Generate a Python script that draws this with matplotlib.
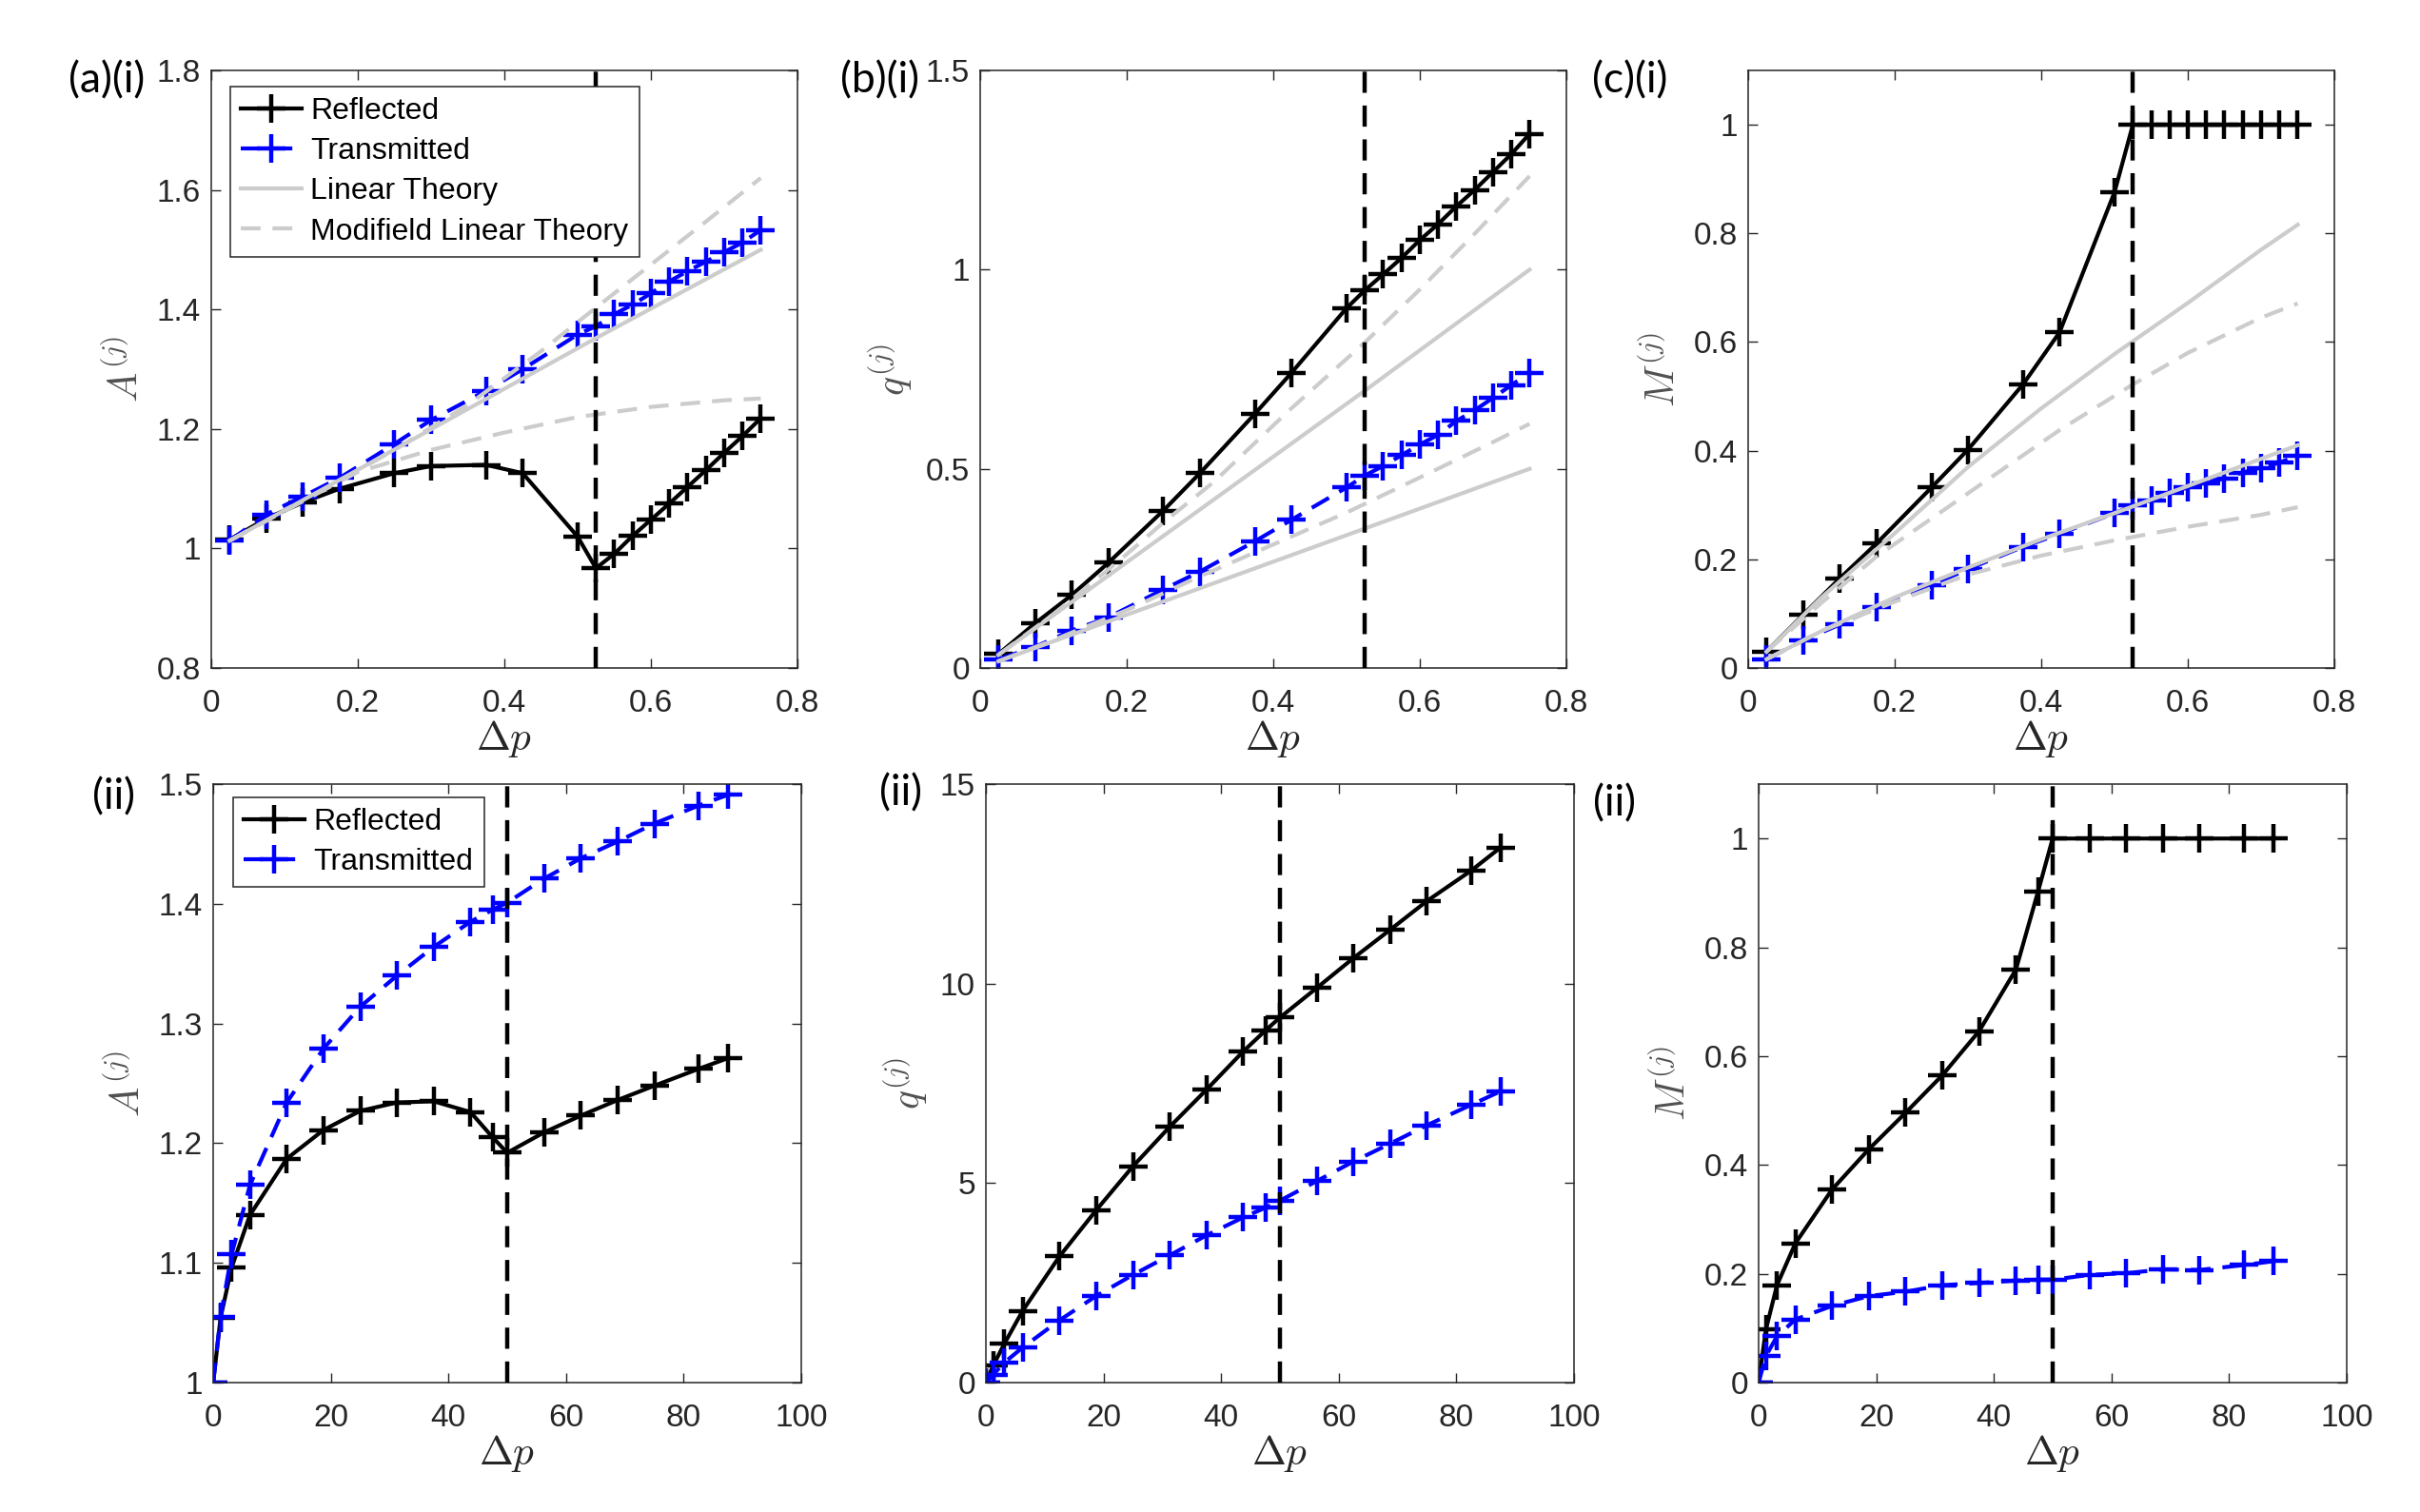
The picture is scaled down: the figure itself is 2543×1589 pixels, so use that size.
import matplotlib
matplotlib.use("Agg")
import matplotlib.pyplot as plt
from matplotlib.ticker import FuncFormatter, MultipleLocator

plt.rcParams['font.family'] = ['Liberation Sans', 'DejaVu Sans']
plt.rcParams['mathtext.fontset'] = 'cm'

# ---------------- data: top row (small delta p) ----------------
x_top = [0.025, 0.075, 0.125, 0.175, 0.25, 0.3, 0.375, 0.425, 0.5, 0.525,
         0.55, 0.575, 0.6, 0.625, 0.65, 0.675, 0.7, 0.725, 0.75]

A_ref_top = [1.015, 1.05, 1.077, 1.10, 1.126, 1.138, 1.140, 1.126, 1.02, 0.967,
             0.991, 1.021, 1.048, 1.075, 1.103, 1.131, 1.16, 1.188, 1.218]
A_tra_top = [1.013, 1.057, 1.087, 1.118, 1.175, 1.215, 1.264, 1.30, 1.358, 1.372,
             1.392, 1.408, 1.427, 1.447, 1.464, 1.48, 1.496, 1.512, 1.533]

q_ref_top = [0.035, 0.112, 0.183, 0.264, 0.395, 0.489, 0.638, 0.741, 0.903, 0.948,
             0.988, 1.029, 1.074, 1.114, 1.159, 1.20, 1.245, 1.29, 1.341]
q_tra_top = [0.022, 0.053, 0.094, 0.127, 0.197, 0.242, 0.318, 0.372, 0.453, 0.483,
             0.507, 0.534, 0.561, 0.585, 0.62, 0.647, 0.678, 0.71, 0.741]

M_ref_top = [0.030, 0.098, 0.165, 0.229, 0.332, 0.402, 0.522, 0.618, 0.876, 1.0,
             1.0, 1.0, 1.0, 1.0, 1.0, 1.0, 1.0, 1.0, 1.0]
M_tra_top = [0.016, 0.051, 0.080, 0.112, 0.153, 0.182, 0.223, 0.247, 0.285, 0.299,
             0.309, 0.323, 0.332, 0.340, 0.349, 0.360, 0.368, 0.378, 0.391]

# theory curves (top row)
A_lin_x = [0.025, 0.525, 0.75]
A_lin = [1.013, 1.352, 1.5]
A_mod_tra_x = [0.025, 0.15, 0.25, 0.35, 0.45, 0.525, 0.6, 0.675, 0.75]
A_mod_tra = [1.013, 1.096, 1.165, 1.24, 1.33, 1.403, 1.475, 1.547, 1.62]
A_mod_ref_x = [0.025, 0.1, 0.2, 0.3, 0.4, 0.5, 0.6, 0.7, 0.75]
A_mod_ref = [1.013, 1.063, 1.128, 1.165, 1.194, 1.22, 1.237, 1.248, 1.251]

q_lin_x = [0.025, 0.525, 0.75]
q_lin_ref = [0.033, 0.696, 1.0]
q_lin_tra = [0.017, 0.35, 0.5]
q_mod_ref_x = [0.025, 0.1, 0.187, 0.252, 0.319, 0.422, 0.525, 0.6, 0.675, 0.75]
q_mod_ref = [0.033, 0.135, 0.265, 0.368, 0.467, 0.647, 0.817, 0.95, 1.09, 1.235]
q_mod_tra_x = [0.025, 0.1, 0.2, 0.3, 0.4, 0.5, 0.6, 0.7, 0.75]
q_mod_tra = [0.017, 0.07, 0.145, 0.23, 0.31, 0.39, 0.478, 0.567, 0.613]

M_th_x = [0.025, 0.1, 0.2, 0.3, 0.4, 0.5, 0.6, 0.7, 0.75]
M_lin_ref = [0.03, 0.13, 0.248, 0.37, 0.478, 0.578, 0.672, 0.77, 0.816]
M_lin_tra = [0.016, 0.068, 0.13, 0.185, 0.237, 0.285, 0.335, 0.385, 0.41]
M_mod_ref_x = [0.025, 0.1, 0.175, 0.25, 0.325, 0.425, 0.525, 0.6, 0.7, 0.75]
M_mod_ref = [0.03, 0.12, 0.205, 0.275, 0.345, 0.438, 0.522, 0.58, 0.645, 0.671]
M_mod_tra = [0.016, 0.068, 0.122, 0.172, 0.207, 0.235, 0.26, 0.282, 0.296]

# ---------------- data: bottom row (large delta p) ----------------
x_bot = [0, 1.25, 3.125, 6.25, 12.5, 18.75, 25, 31.25, 37.5, 43.75, 47.5, 50,
         56.25, 62.5, 68.75, 75, 82.5, 87.5]

A_ref_bot = [1.0, 1.054, 1.096, 1.140, 1.187, 1.211, 1.227, 1.234, 1.235, 1.226,
             1.205, 1.192, 1.209, 1.223, 1.236, 1.248, 1.262, 1.271]
A_tra_bot = [1.0, 1.055, 1.107, 1.165, 1.234, 1.279, 1.314, 1.34, 1.364, 1.385,
             1.395, 1.401, 1.421, 1.438, 1.452, 1.467, 1.482, 1.491]

q_ref_bot = [0.0, 0.43, 0.97, 1.80, 3.16, 4.32, 5.42, 6.41, 7.34, 8.30,
             8.82, 9.15, 9.89, 10.64, 11.35, 12.07, 12.83, 13.41]
q_tra_bot = [0.0, 0.2, 0.5, 0.88, 1.56, 2.17, 2.70, 3.19, 3.69, 4.14,
             4.38, 4.56, 5.05, 5.54, 5.99, 6.45, 6.96, 7.30]

M_ref_bot = [0.0, 0.098, 0.179, 0.256, 0.355, 0.429, 0.496, 0.565, 0.646, 0.759,
             0.902, 1.0, 1.0, 1.0, 1.0, 1.0, 1.0, 1.0]
M_tra_bot = [0.0, 0.049, 0.085, 0.116, 0.141, 0.159, 0.167, 0.179, 0.183, 0.1875,
             0.189, 0.189, 0.198, 0.201, 0.208, 0.207, 0.216, 0.223]

crit_top = 0.525
crit_bot = 50

# ---------------- styling ----------------
BLUE = '#0000ff'
GRAY = '#cccccc'
TXT = '#262626'
LW = 3.0
MS = 22
MEW = 3.2
DASH = (0, (5.0, 3.0))

fig = plt.figure(figsize=(25.43, 15.89), dpi=100)

top_lefts = [0.0873, 0.4050, 0.7224]
bot_lefts = [0.0881, 0.4074, 0.7267]
top_w, bot_w = 0.2422, 0.2430
top_b, top_h = 0.5582, 0.3952
bot_b, bot_h = 0.0856, 0.3958

fmt = FuncFormatter(lambda v, p: '%g' % round(v, 6))


def style(ax, xlim, ylim, xstep, ystep, ylabel):
    ax.set_xlim(*xlim)
    ax.set_ylim(*ylim)
    ax.xaxis.set_major_locator(MultipleLocator(xstep))
    ax.yaxis.set_major_locator(MultipleLocator(ystep))
    ax.xaxis.set_major_formatter(fmt)
    ax.yaxis.set_major_formatter(fmt)
    ax.tick_params(direction='in', top=True, right=True, length=7, width=1,
                   labelsize=24, colors=TXT)
    ax.tick_params(axis='x', pad=16)
    ax.tick_params(axis='y', pad=8)
    for s in ax.spines.values():
        s.set_color(TXT)
        s.set_linewidth(1.1)
    ax.set_xlabel(r'$\Delta p$', fontsize=31, color=TXT, labelpad=0)
    ax.set_ylabel(ylabel, fontsize=30, color='#505050', labelpad=8)


def data(ax, x, yr, yt):
    h1, = ax.plot(x, yr, color='k', lw=LW, marker='+', ms=MS, mew=MEW,
                  zorder=2, label='Reflected')
    h2, = ax.plot(x, yt, color=BLUE, lw=LW, ls=DASH, marker='+', ms=MS, mew=MEW,
                  zorder=2, label='Transmitted')
    return h1, h2


def leg(ax, handles, anchor):
    lg = ax.legend(handles=handles, loc='upper left', bbox_to_anchor=anchor,
                   borderaxespad=0, fontsize=23, frameon=True, fancybox=False,
                   edgecolor=TXT, framealpha=1, handlelength=2.0,
                   handletextpad=0.3, labelspacing=0.38, borderpad=0.35)
    lg.get_frame().set_linewidth(1.1)
    lg.set_zorder(10)


# ---- (a)(i)
ax = fig.add_axes([top_lefts[0], top_b, top_w, top_h])
h1, h2 = data(ax, x_top, A_ref_top, A_tra_top)
h3, = ax.plot(A_lin_x, A_lin, color=GRAY, lw=3, zorder=3, label='Linear Theory')
h4, = ax.plot(A_mod_tra_x, A_mod_tra, color=GRAY, lw=3, ls=DASH, zorder=3,
              label='Modifield Linear Theory')
ax.plot(A_mod_ref_x, A_mod_ref, color=GRAY, lw=3, ls=DASH, zorder=3)
ax.axvline(crit_top, color='k', lw=3.2, ls=(0, (5, 3)), zorder=4)
style(ax, (0, 0.8), (0.8, 1.8), 0.2, 0.2, r'$A^{(j)}$')
leg(ax, [h1, h2, h3, h4], (0.032, 0.973))

# ---- (b)(i)
ax = fig.add_axes([top_lefts[1], top_b, top_w, top_h])
data(ax, x_top, q_ref_top, q_tra_top)
ax.plot(q_lin_x, q_lin_ref, color=GRAY, lw=3, zorder=3)
ax.plot(q_lin_x, q_lin_tra, color=GRAY, lw=3, zorder=3)
ax.plot(q_mod_ref_x, q_mod_ref, color=GRAY, lw=3, ls=DASH, zorder=3)
ax.plot(q_mod_tra_x, q_mod_tra, color=GRAY, lw=3, ls=DASH, zorder=3)
ax.axvline(crit_top, color='k', lw=3.2, ls=(0, (5, 3)), zorder=4)
style(ax, (0, 0.8), (0, 1.5), 0.2, 0.5, r'$q^{(j)}$')

# ---- (c)(i)
ax = fig.add_axes([top_lefts[2], top_b, top_w, top_h])
data(ax, x_top, M_ref_top, M_tra_top)
ax.plot(M_th_x, M_lin_ref, color=GRAY, lw=3, zorder=3)
ax.plot(M_th_x, M_lin_tra, color=GRAY, lw=3, zorder=3)
ax.plot(M_mod_ref_x, M_mod_ref, color=GRAY, lw=3, ls=DASH, zorder=3)
ax.plot(M_th_x, M_mod_tra, color=GRAY, lw=3, ls=DASH, zorder=3)
ax.axvline(crit_top, color='k', lw=3.2, ls=(0, (5, 3)), zorder=4)
style(ax, (0, 0.8), (0, 1.1), 0.2, 0.2, r'$M^{(j)}$')

# ---- (a)(ii)
ax = fig.add_axes([bot_lefts[0], bot_b, bot_w, bot_h])
g1, g2 = data(ax, x_bot, A_ref_bot, A_tra_bot)
ax.axvline(crit_bot, color='k', lw=3.2, ls=(0, (5, 3)), zorder=4)
style(ax, (0, 100), (1, 1.5), 20, 0.1, r'$A^{(j)}$')
leg(ax, [g1, g2], (0.034, 0.978))

# ---- (b)(ii)
ax = fig.add_axes([bot_lefts[1], bot_b, bot_w, bot_h])
data(ax, x_bot, q_ref_bot, q_tra_bot)
ax.axvline(crit_bot, color='k', lw=3.2, ls=(0, (5, 3)), zorder=4)
style(ax, (0, 100), (0, 15), 20, 5, r'$q^{(j)}$')

# ---- (c)(ii)
ax = fig.add_axes([bot_lefts[2], bot_b, bot_w, bot_h])
data(ax, x_bot, M_ref_bot, M_tra_bot)
ax.axvline(crit_bot, color='k', lw=3.2, ls=(0, (5, 3)), zorder=4)
style(ax, (0, 100), (0, 1.1), 20, 0.2, r'$M^{(j)}$')

# ---- panel labels
lab_kw = dict(fontsize=32, ha='right', va='center', color='k',
              family=['Lato', 'DejaVu Sans'])
fig.text(0.0600, 0.9465, '(a)(i)', **lab_kw)
fig.text(0.3800, 0.9465, '(b)(i)', **lab_kw)
fig.text(0.6890, 0.9465, '(c)(i)', **lab_kw)
fig.text(0.0560, 0.473, '(ii)', **lab_kw)
fig.text(0.3810, 0.475, '(ii)', **lab_kw)
fig.text(0.6760, 0.468, '(ii)', **lab_kw)

fig.savefig('out.png', dpi=100, facecolor='white')
